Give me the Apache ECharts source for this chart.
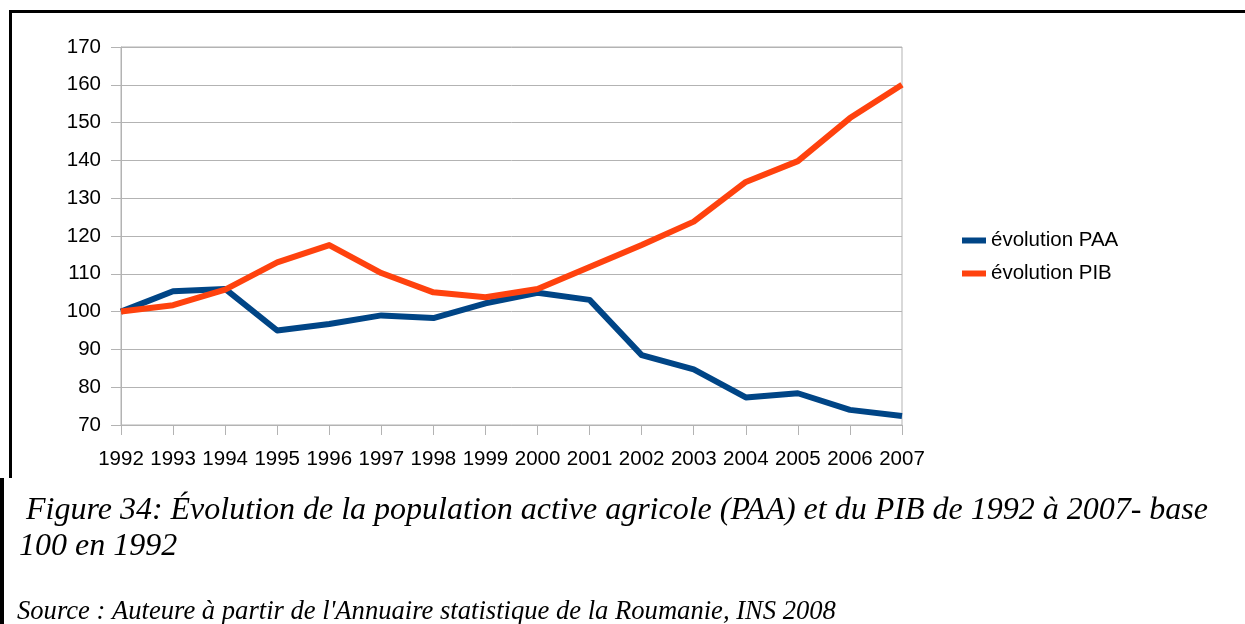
<!DOCTYPE html>
<html>
<head>
<meta charset="utf-8">
<script src="https://cdn.jsdelivr.net/npm/echarts@6/dist/echarts.min.js"></script>
<style>
  html, body { margin: 0; padding: 0; background: #fff; }
  #chart { width: 1245px; height: 624px; }
</style>
</head>
<body>
<div id="chart"></div>
<script>
// Years (base 100 in 1992)
const years = ['1992', '1993', '1994', '1995', '1996', '1997', '1998', '1999',
               '2000', '2001', '2002', '2003', '2004', '2005', '2006', '2007'];

// Agricultural active population index
const paa = [100, 105.4, 106.0, 95.0, 96.7, 99.0, 98.3, 102.2,
             105.0, 103.1, 88.5, 84.7, 77.3, 78.4, 74.0, 72.4];

// GDP index
const pib = [100, 101.7, 105.8, 113.0, 117.6, 110.2, 105.1, 103.8,
             106.0, 111.8, 117.6, 123.8, 134.3, 139.8, 151.2, 160.0];

const seriesNames = ['évolution PAA', 'évolution PIB'];

const captionLine1 = ' Figure 34: Évolution de la population active agricole (PAA) et du PIB de 1992 à 2007- base';
const captionLine2 = '100 en 1992';
const sourceLine = "Source : Auteure à partir de l'Annuaire statistique de la Roumanie, INS 2008";

const gridColor = '#b3b3b3';
const labelFont = { color: '#000', fontFamily: 'Liberation Sans', fontSize: 20.5 };

const chart = echarts.init(document.getElementById('chart'), null, { renderer: 'canvas' });

chart.setOption({
  animation: false,
  backgroundColor: '#fff',
  grid: {
    left: 121, right: 343, top: 47, bottom: 199,
    show: true, borderColor: gridColor, borderWidth: 1
  },
  legend: {
    orient: 'vertical',
    left: 957, top: 225,
    itemWidth: 24, itemHeight: 6, itemGap: 12,
    icon: 'rect',
    textStyle: Object.assign({}, labelFont),
    data: seriesNames
  },
  xAxis: {
    type: 'category',
    data: years,
    boundaryGap: false,
    axisLine: { lineStyle: { color: gridColor, width: 1 } },
    axisTick: { show: true, length: 10, interval: 0, lineStyle: { color: gridColor } },
    axisLabel: Object.assign({ margin: 24, interval: 0 }, labelFont),
    splitLine: { show: false }
  },
  yAxis: {
    type: 'value',
    min: 70, max: 170, interval: 10,
    axisLine: { show: true, lineStyle: { color: gridColor, width: 1 } },
    axisTick: { show: true, length: 10, lineStyle: { color: gridColor } },
    axisLabel: Object.assign({ margin: 20 }, labelFont),
    splitLine: { show: true, lineStyle: { color: gridColor, width: 1 } }
  },
  series: [
    {
      name: seriesNames[0], type: 'line', data: paa,
      symbol: 'none', color: '#004586',
      lineStyle: { width: 6, color: '#004586', join: 'round' }
    },
    {
      name: seriesNames[1], type: 'line', data: pib,
      symbol: 'none', color: '#ff420e',
      lineStyle: { width: 6, color: '#ff420e', join: 'round' }
    }
  ],
  graphic: [
    // frame round the figure
    { type: 'rect', shape: { x: 9, y: 10, width: 1240, height: 3 }, style: { fill: '#000' }, silent: true },
    { type: 'rect', shape: { x: 9, y: 10, width: 3, height: 468 }, style: { fill: '#000' }, silent: true },
    { type: 'rect', shape: { x: 0, y: 478, width: 4, height: 146 }, style: { fill: '#000' }, silent: true },
    // caption
    { type: 'text', x: 18, y: 511, style: { text: captionLine1, font: 'italic 32px "Liberation Serif"', fill: '#000', verticalAlign: 'middle' }, silent: true },
    { type: 'text', x: 19, y: 547, style: { text: captionLine2, font: 'italic 32px "Liberation Serif"', fill: '#000', verticalAlign: 'middle' }, silent: true },
    { type: 'text', x: 17, y: 612, style: { text: sourceLine, font: 'italic 26.6px "Liberation Serif"', fill: '#000', verticalAlign: 'middle' }, silent: true }
  ]
});
</script>
</body>
</html>
